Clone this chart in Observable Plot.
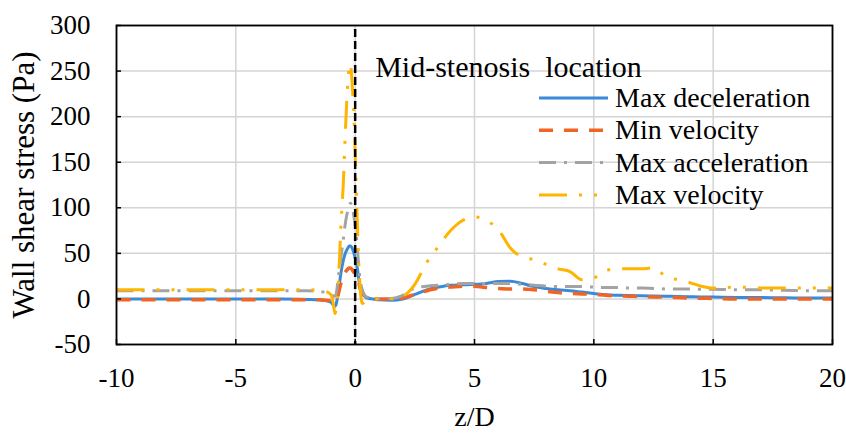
<!DOCTYPE html>
<html>
<head>
<meta charset="utf-8">
<script src="https://cdn.jsdelivr.net/npm/d3@7"></script>
<script src="https://cdn.jsdelivr.net/npm/@observablehq/plot@0.6"></script>
<style>
  html, body { margin: 0; padding: 0; background: #fff; }
  svg text { white-space: pre; }
</style>
</head>
<body>
<div id="chart"></div>
<script>
// ---- data ----
const zD = [-10, -9, -8, -7, -6, -5, -4, -3, -2, -1.5, -1.2, -1.0, -0.9, -0.85, -0.8, -0.7, -0.6, -0.5, -0.4, -0.3, -0.25, -0.2, -0.15, -0.1, -0.05, 0, 0.05, 0.1, 0.15, 0.2, 0.3, 0.4, 0.5, 0.75, 1, 1.5, 2, 2.5, 3, 3.5, 4, 4.5, 5, 5.5, 6, 6.5, 7, 7.5, 8, 8.5, 9, 9.5, 10, 10.5, 11, 11.5, 12, 12.5, 13, 13.5, 14, 14.5, 15, 16, 17, 18, 19, 20];

const maxDeceleration = [0, 0, 0, 0, 0, 0, 0, 0, -0.5, -1, -2, -4, -7, -8, -6, 8, 28, 42, 51, 56, 58, 58, 57, 54, 50, 45, 40, 32, 22, 14, 7, 3, 1, 0, -1, -1.5, 0, 5, 10, 13, 15, 15.5, 16, 17, 19, 19.5, 17, 13.5, 11.5, 10, 9, 7.5, 6, 4.5, 4, 3.7, 3.5, 3.2, 3, 2.7, 2.5, 2.2, 2, 1.7, 1.5, 1.2, 1, 1];

const minVelocity = [-1, -1, -1, -1, -1, -1, -1, -1, -1, -1, -1.5, -2, -3, -3, -2, 6, 17, 25, 30, 33, 34, 34, 33, 31, 29, 27, 25, 23, 18, 12, 6, 3, 1.5, 0.5, 0, 0, 1, 5, 9, 12, 13, 14, 14, 12.5, 11.5, 11, 11, 10, 8.5, 7, 6, 5.5, 5, 4, 3.5, 3, 2.5, 2.2, 2, 1.5, 1, 0.8, 0.5, 0, 0, 0, 0, 0];

const maxAcceleration = [9, 9, 9, 9, 9, 9, 9, 9, 9, 8, 7, 5, 3, 3, 5, 25, 45, 65, 85, 98, 103, 105, 103, 98, 90, 80, 68, 52, 36, 22, 10, 4, 2, 1, 0.5, 0.5, 4, 12, 14, 15, 16, 17, 17, 17, 17, 17, 16, 15, 14, 13.5, 13.5, 13.5, 13, 12.5, 12.5, 12, 12, 11.5, 11, 11, 11, 10.5, 10.5, 10, 10, 9.5, 9, 9];

const maxVelocity = [10, 10, 10, 10, 10, 10, 10, 10, 10, 9.5, 8, 4, -8, -16, -12, 20, 78, 125, 190, 240, 255, 258, 245, 225, 200, 160, 120, 75, 40, 15, -5, -3, -1, 0, 0, 0, 3, 16, 40, 58, 75, 86, 90, 86, 76, 56, 46, 43, 38, 33, 30, 21, 23, 31, 33, 33, 33, 34, 25, 21, 18, 14, 12, 13, 12, 12, 12, 12];

const seriesNames = ["Max deceleration", "Min velocity", "Max acceleration", "Max velocity"];
const seriesValues = [maxDeceleration, minVelocity, maxAcceleration, maxVelocity];
const xTicks = [-10, -5, 0, 5, 10, 15, 20];
const yTicks = [-50, 0, 50, 100, 150, 200, 250, 300];
const midStenosis = [0];
const annotation = "Mid-stenosis  location";
const xTitle = "z/D";
const yTitle = "Wall shear stress (Pa)";

// ---- styles ----
const colors = ["#3a8ad8", "#f06424", "#a3a3a3", "#ffb400"];
const dashes = [null, "14,11", "17,8,3,8", "28,12,3,12,3,12"];
const widths = [3, 3.5, 3, 3];
const serif = "Liberation Serif, Tinos, Times New Roman, Times, DejaVu Serif, serif";

const W = 846, H = 434;
const mL = 116, mR = 14, mT = 25, mB = 90;
const plotW = W - mL - mR, plotH = H - mT - mB;

const rows = seriesNames.map((name, s) =>
  zD.map((z, i) => ({ z, wss: seriesValues[s][i], series: name })));

const lineMarks = rows.map((data, s) =>
  Plot.line(data, {
    x: "z", y: "wss", curve: "monotone-x",
    stroke: colors[s], strokeWidth: widths[s],
    strokeDasharray: dashes[s] || undefined,
    strokeLinecap: "butt", strokeLinejoin: "round"
  }));

const fmt = d => String(d);

const chart = Plot.plot({
  width: W, height: H,
  marginLeft: mL, marginRight: mR, marginTop: mT, marginBottom: mB,
  style: { fontFamily: serif, fontSize: "27px", background: "#fff", color: "#000", overflow: "visible" },
  x: { domain: [-10, 20] },
  y: { domain: [-50, 300] },
  marks: [
    Plot.ruleX(xTicks, { stroke: "#d4d4d4", strokeWidth: 1.5 }),
    Plot.ruleY(yTicks, { stroke: "#d4d4d4", strokeWidth: 1.5 }),
    ...lineMarks,
    Plot.ruleX(midStenosis, { stroke: "#000", strokeWidth: 2.5, strokeDasharray: "8,4", insetTop: 4 }),
    Plot.frame({ stroke: "#000", strokeWidth: 1.8 }),
    Plot.ruleX(xTicks, { stroke: "#000", strokeWidth: 1.5, insetTop: plotH - 5 }),
    Plot.ruleY(yTicks, { stroke: "#000", strokeWidth: 1.5, insetRight: plotW - 5 }),
    Plot.axisX(xTicks, { tickSize: 0, tickPadding: 23, label: null, tickFormat: fmt, fontSize: 27, fontFamily: serif }),
    Plot.axisY(yTicks, { tickSize: 0, tickPadding: 26, label: null, tickFormat: fmt, fontSize: 27, fontFamily: serif }),
    Plot.text([xTitle], { text: d => d, frameAnchor: "bottom", textAnchor: "middle", dy: 81, fontSize: 28, fontFamily: serif }),
    Plot.text([yTitle], { text: d => d, frameAnchor: "left", textAnchor: "middle", dx: -92, rotate: -90, fontSize: 31, fontFamily: serif }),
    Plot.text([annotation], { text: d => d, x: midStenosis[0], frameAnchor: "top", dx: 20, dy: 30, textAnchor: "start", fontSize: 30, fontFamily: serif })
  ]
});

// ---- legend drawn inside the plot area ----
const svg = d3.select(chart);
const lg = svg.append("g").attr("transform", "translate(539,98)");
seriesNames.forEach((name, s) => {
  const g = lg.append("g").attr("transform", `translate(0,${s * 32.3})`);
  g.append("line").attr("x1", 0).attr("x2", 69).attr("y1", 0).attr("y2", 0)
    .attr("stroke", colors[s]).attr("stroke-width", widths[s])
    .attr("stroke-dasharray", dashes[s]);
  g.append("text").attr("x", 76).attr("y", 0).attr("dy", "0.32em")
    .attr("text-anchor", "start")
    .attr("font-family", serif).attr("font-size", 28).attr("fill", "#000")
    .text(name);
});

document.getElementById("chart").appendChild(chart);
</script>
</body>
</html>
